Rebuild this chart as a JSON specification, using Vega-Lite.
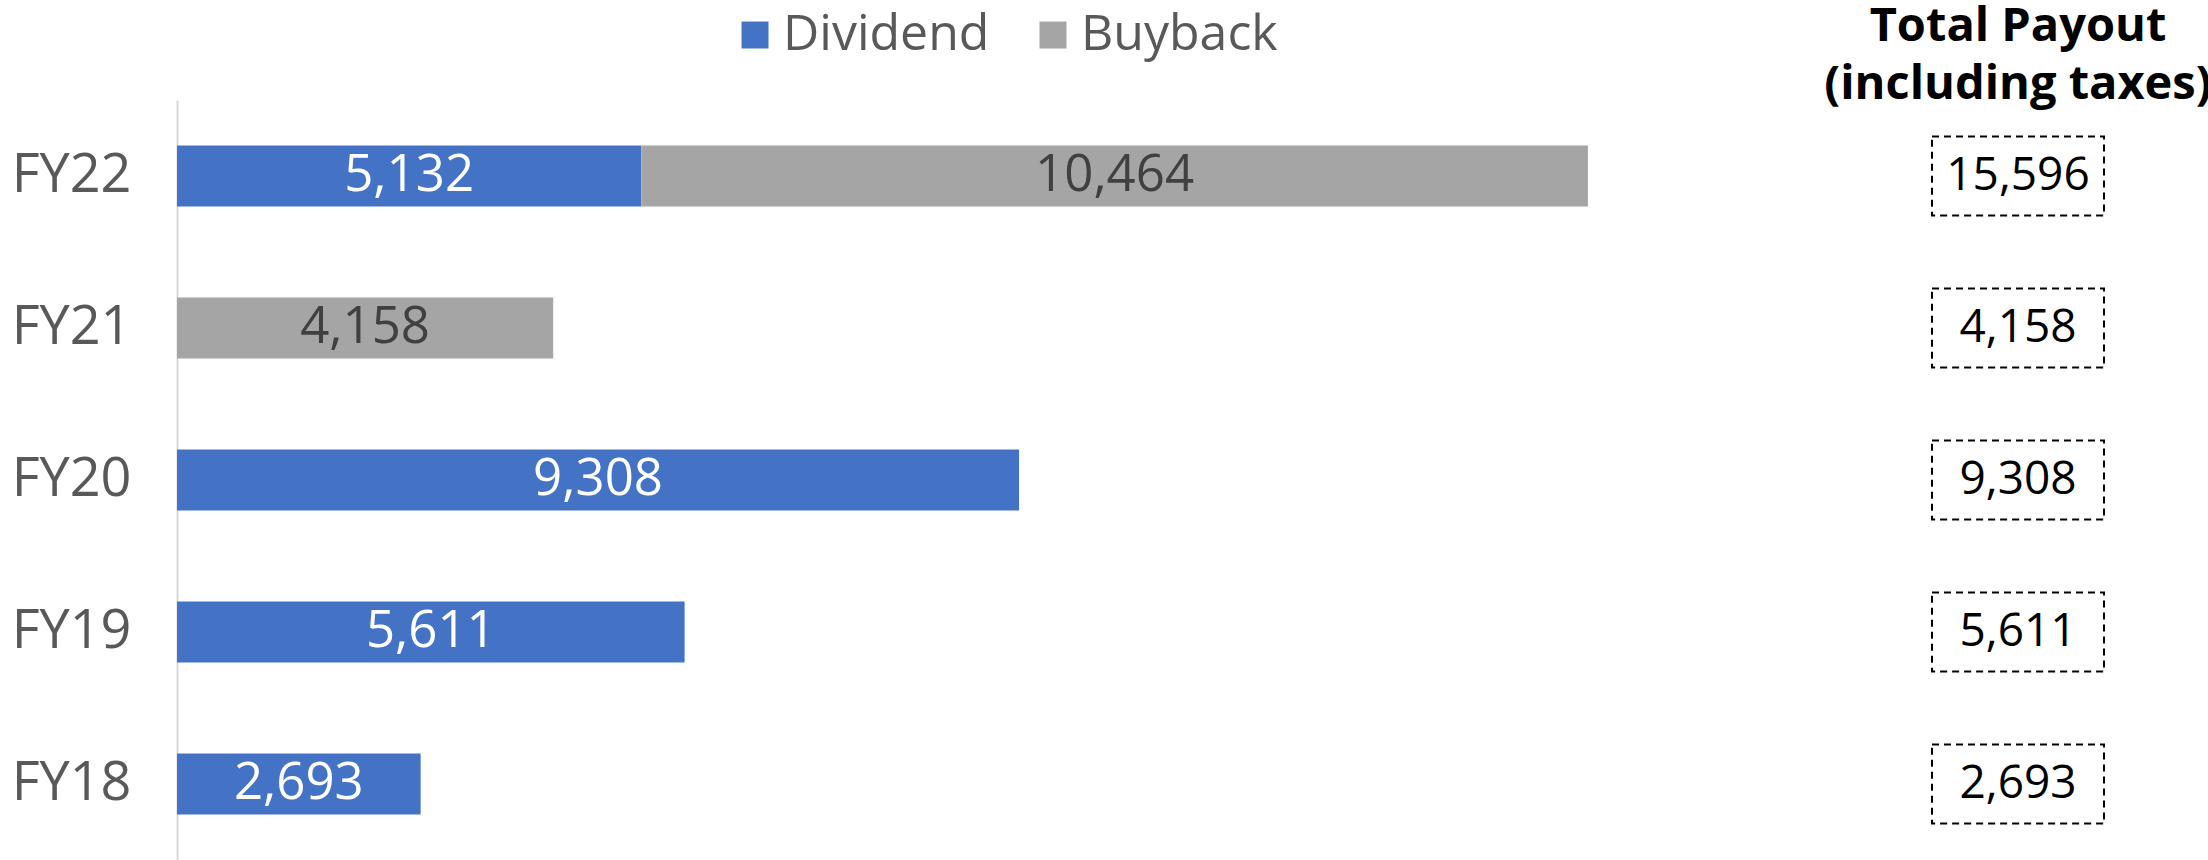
{
  "$schema": "https://vega.github.io/schema/vega-lite/v6.json",
  "background": "white",
  "padding": {"left": 11, "top": 3, "right": 0, "bottom": 0},
  "bounds": "flush",
  "spacing": 0,
  "data": {"values": [
    {"Year": "FY22", "Type": "Dividend", "Value": 5132},
    {"Year": "FY22", "Type": "Buyback", "Value": 10464},
    {"Year": "FY21", "Type": "Buyback", "Value": 4158},
    {"Year": "FY20", "Type": "Dividend", "Value": 9308},
    {"Year": "FY19", "Type": "Dividend", "Value": 5611},
    {"Year": "FY18", "Type": "Dividend", "Value": 2693}
  ]},
  "config": {"view": {"stroke": null}, "font": "Open Sans"},
  "hconcat": [
    {
      "width": 1651,
      "height": 760,
      "transform": [
        {"stack": "Value", "groupby": ["Year"], "sort": [{"field": "Type", "order": "descending"}], "as": ["v0", "v1"]},
        {"calculate": "(datum.v0 + datum.v1) / 2", "as": "mid"}
      ],
      "encoding": {
        "y": {
          "field": "Year", "type": "nominal",
          "sort": ["FY22", "FY21", "FY20", "FY19", "FY18"],
          "scale": {"domain": ["FY22", "FY21", "FY20", "FY19", "FY18"], "paddingInner": 0.6, "paddingOuter": 0.3},
          "axis": {"title": null, "ticks": false, "domainColor": "#d9d9d9", "domainWidth": 2, "labelFontSize": 54, "labelColor": "#595959", "labelPadding": 46, "labelFont": "Open Sans"}
        }
      },
      "layer": [
        {
          "mark": {"type": "bar"},
          "encoding": {
            "x": {"field": "v0", "type": "quantitative", "scale": {"domain": [0, 18250], "nice": false, "zero": true}, "axis": null},
            "x2": {"field": "v1"},
            "color": {
              "field": "Type", "type": "nominal",
              "scale": {"domain": ["Dividend", "Buyback"], "range": ["#4472C4", "#A5A5A5"]},
              "legend": {"title": null, "orient": "none", "legendX": 553, "legendY": -90, "direction": "horizontal", "symbolType": "square", "symbolSize": 729, "symbolStrokeWidth": 0, "labelFontSize": 50, "labelColor": "#595959", "labelFont": "Open Sans", "columnPadding": 38, "labelOffset": 3, "labelLimit": 500, "padding": 0}
            }
          }
        },
        {
          "mark": {"type": "text", "fontSize": 51, "font": "Open Sans"},
          "encoding": {
            "x": {"field": "mid", "type": "quantitative"},
            "text": {"field": "Value", "type": "quantitative", "format": ","},
            "color": {"condition": {"test": "datum.Type === 'Dividend'", "value": "#ffffff"}, "value": "#404040"}
          }
        }
      ]
    },
    {
      "width": 380,
      "height": 760,
      "title": {"text": ["Total Payout", "(including taxes)"], "fontSize": 47, "fontWeight": "bold", "color": "#000000", "anchor": "middle", "lineHeight": 58, "offset": -9, "font": "Open Sans"},
      "transform": [{"aggregate": [{"op": "sum", "field": "Value", "as": "Total"}], "groupby": ["Year"]}],
      "encoding": {
        "y": {
          "field": "Year", "type": "nominal",
          "sort": ["FY22", "FY21", "FY20", "FY19", "FY18"],
          "scale": {"domain": ["FY22", "FY21", "FY20", "FY19", "FY18"], "paddingInner": 0.6, "paddingOuter": 0.3},
          "axis": null
        }
      },
      "layer": [
        {
          "mark": {"type": "point", "shape": "M-1,-0.46L1,-0.46L1,0.46L-1,0.46Z", "size": 29584, "filled": false, "stroke": "#000000", "strokeWidth": 2, "strokeDash": [7, 5], "opacity": 1},
          "encoding": {}
        },
        {
          "mark": {"type": "text", "fontSize": 46, "color": "#000000", "font": "Open Sans"},
          "encoding": {"text": {"field": "Total", "type": "quantitative", "format": ","}}
        }
      ]
    }
  ]
}
